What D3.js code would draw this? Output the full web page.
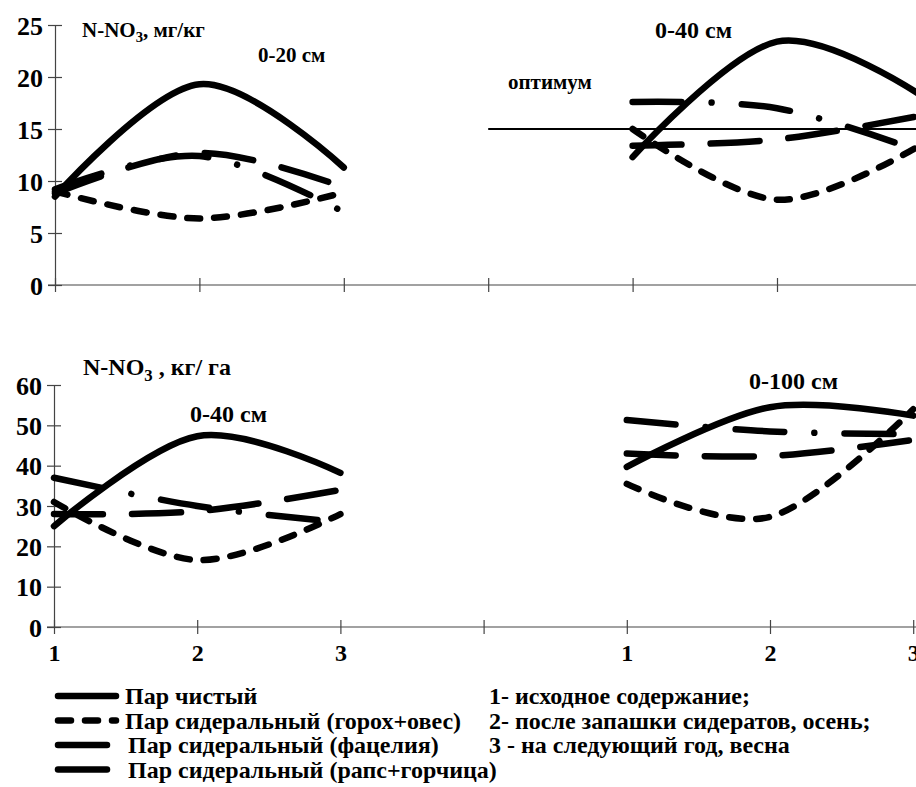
<!DOCTYPE html>
<html><head><meta charset="utf-8">
<script src="https://cdn.jsdelivr.net/npm/d3@7"></script>
<style>
body{margin:0;background:#fff}
svg{display:block}
</style>
</head><body><svg id="c" width="916" height="787"></svg>
<script>
// ---- data ----
const categories = ["1","2","3","","1","2","3"];
const seriesNames = ["Пар чистый","Пар сидеральный (горох+овес)","Пар сидеральный (фацелия)","Пар сидеральный (рапс+горчица)"];
// top panel: N-NO3, мг/кг (0-20 см | 0-40 см)
const topClean    = [8.5, 19.3, 11.3, null, 12.3, 23.4, 18.2];
const topPeaOat   = [9.0, 6.4, 8.9, null, 15.0, 8.2, 13.5];
const topPhacelia = [8.8, 12.7, 9.4, null, 13.4, 14.0, 16.3];
const topRape     = [9.2, 12.4, 7.0, null, 17.6, 17.0, 12.8];
// bottom panel: N-NO3, кг/га (0-40 см | 0-100 см)
const botClean    = [25.0, 47.3, 38.2, null, 39.7, 54.5, 52.4];
const botPeaOat   = [31.0, 16.6, 28.0, null, 35.5, 27.3, 54.0];
const botPhacelia = [28.0, 28.7, 34.0, null, 43.0, 42.4, 46.4];
const botRape     = [37.0, 30.0, 26.0, null, 51.3, 48.5, 47.8];
const topTicks = [0,5,10,15,20,25];
const bottomTicks = [0,10,20,30,40,50,60];
const optimum = 15;
const legendNotes = ["1- исходное содержание;","2- после запашки сидератов, осень;","3 - на следующий год, весна"];

// ---- styles ----
const FONT = "'Liberation Serif'";
const dashes = [null, "13 14", "49 29", "49 30 0.01 30"];
const SW = 6.5;

const svg = d3.select("#c");

function styleText(sel, size){
  sel.attr("font-family",FONT).attr("font-weight","bold").attr("font-size",size).attr("fill","#000");
  return sel;
}

function panel(cfg){
  const g = svg.append("g");
  const x = d3.scaleLinear().domain([0,6]).range([cfg.x0, cfg.x0 + 6*cfg.step]);
  const y = d3.scaleLinear().domain([0, cfg.ymax]).range([cfg.yb, cfg.yt]);
  const xa = g.append("g").attr("transform",`translate(0,${cfg.yb})`)
    .call(d3.axisBottom(x).tickValues(d3.range(7)).tickFormat(i=>cfg.showX?categories[i]:"").tickSizeOuter(0));
  xa.attr("font-family",FONT);
  xa.select(".domain").attr("d",`M${cfg.x0-7},0H916`).attr("stroke","#444").attr("stroke-width",1.2);
  xa.selectAll(".tick line").attr("y1",-7).attr("y2",7).attr("stroke","#444").attr("stroke-width",1.2);
  styleText(xa.selectAll(".tick text").attr("y",26).attr("dy","0.35em"), 24);
  const ya = g.append("g").attr("transform",`translate(${cfg.x0},0)`)
    .call(d3.axisLeft(y).tickValues(cfg.ticks).tickSizeOuter(0));
  ya.attr("font-family",FONT);
  ya.select(".domain").attr("stroke","#444").attr("stroke-width",1.2);
  ya.selectAll(".tick line").attr("x1",-7).attr("x2",7).attr("stroke","#444").attr("stroke-width",1.2);
  styleText(ya.selectAll(".tick text").attr("x",-12).attr("dy","0.35em"), 26);
  const line = d3.line().defined(d=>d!=null).x((d,i)=>x(i)).y(d=>y(d)).curve(d3.curveCardinal.tension(0));
  cfg.series.forEach((s,k)=>{
    g.append("path").attr("d",line(s)).attr("fill","none").attr("stroke","#000")
      .attr("stroke-width",SW).attr("stroke-linecap","round").attr("stroke-linejoin","round")
      .attr("stroke-dasharray",dashes[k]);
  });
  return {x,y,g};
}

const topPanel = panel({x0:55, step:144.4, yb:285, yt:25, ymax:25, ticks:topTicks, showX:false,
  series:[topClean, topPeaOat, topPhacelia, topRape]});
const botPanel = panel({x0:54, step:143.2, yb:627, yt:385, ymax:60, ticks:bottomTicks, showX:true,
  series:[botClean, botPeaOat, botPhacelia, botRape]});

topPanel.g.append("line").attr("x1",topPanel.x(3)).attr("x2",916)
  .attr("y1",topPanel.y(optimum)).attr("y2",topPanel.y(optimum))
  .attr("stroke","#000").attr("stroke-width",2.2);

function label(x,y,size,parts){
  const t = styleText(svg.append("text").attr("x",x).attr("y",y), size);
  parts.forEach(p=>{
    const ts = t.append("tspan").text(p.t);
    if(p.sub) ts.attr("font-size",size*0.7).attr("dy",size*0.25);
    if(p.up) ts.attr("dy",-size*0.25);
  });
}
label(82,37,21,[{t:"N-NO"},{t:"3",sub:true},{t:", мг/кг",up:true}]);
label(258,62,21,[{t:"0-20 см"}]);
label(655,38,24,[{t:"0-40 см"}]);
label(508,89,21,[{t:"оптимум"}]);
label(83,375,24,[{t:"N-NO"},{t:"3",sub:true},{t:" , кг/ га",up:true}]);
label(190,422,24,[{t:"0-40 см"}]);
label(749,389,24,[{t:"0-100 см"}]);

const legY = [696,720.5,745,769.5];
seriesNames.forEach((n,k)=>{
  svg.append("line").attr("x1",58).attr("x2",116).attr("y1",legY[k]).attr("y2",legY[k])
    .attr("stroke","#000").attr("stroke-width",SW).attr("stroke-linecap","round")
    .attr("stroke-dasharray",dashes[k]);
  styleText(svg.append("text").attr("x",k<2?125:128).attr("y",legY[k]).attr("dy","0.35em").text(n), 24);
});
legendNotes.forEach((n,k)=>{
  styleText(svg.append("text").attr("x",489).attr("y",legY[k]).attr("dy","0.35em").text(n), 24);
});
</script></body></html>
